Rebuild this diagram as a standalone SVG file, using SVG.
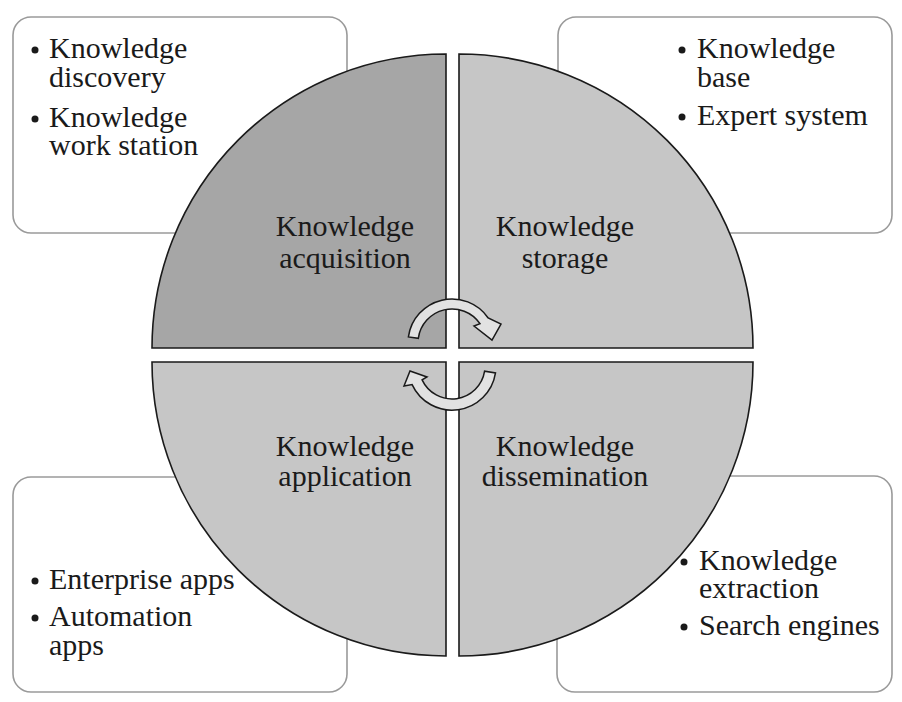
<svg xmlns="http://www.w3.org/2000/svg" width="902" height="702" viewBox="0 0 902 702">
<style>
.box{fill:#fff;stroke:#9a9a9a;stroke-width:1.6}
.q{stroke:#1a1a1a;stroke-width:1.6}
.dark{fill:#a6a6a6}
.light{fill:#c6c6c6}
text{font-family:"Liberation Serif","Times New Roman",serif;font-size:30px;fill:#1a1a1a}
.c{text-anchor:middle}
.dot{fill:#1a1a1a}
.arr{fill:#e2e2e2;stroke:#1a1a1a;stroke-width:1.5;stroke-linejoin:miter}
</style>
<rect width="902" height="702" fill="#fff"/>
<g id="box-acquisition-tools">
<rect class="box" x="13" y="17" width="334" height="216" rx="18"/>
<circle class="dot" cx="35" cy="50" r="3.5"/>
<text x="49" y="58">Knowledge</text>
<text x="49" y="87">discovery</text>
<circle class="dot" cx="35" cy="119" r="3.5"/>
<text x="49" y="127">Knowledge</text>
<text x="49" y="155">work station</text>
</g>
<g id="box-storage-tools">
<rect class="box" x="558" y="17" width="334" height="216" rx="18"/>
<circle class="dot" cx="682" cy="50" r="3.5"/>
<text x="697" y="58">Knowledge</text>
<text x="697" y="87">base</text>
<circle class="dot" cx="682" cy="117" r="3.5"/>
<text x="697" y="125">Expert system</text>
</g>
<g id="box-application-tools">
<rect class="box" x="13" y="477" width="334" height="215" rx="18"/>
<circle class="dot" cx="35" cy="581" r="3.5"/>
<text x="49" y="589">Enterprise apps</text>
<circle class="dot" cx="35" cy="618" r="3.5"/>
<text x="49" y="626">Automation</text>
<text x="49" y="655">apps</text>
</g>
<g id="box-dissemination-tools">
<rect class="box" x="557" y="476" width="335" height="216" rx="18"/>
<circle class="dot" cx="684" cy="562" r="3.5"/>
<text x="699" y="570">Knowledge</text>
<text x="699" y="598">extraction</text>
<circle class="dot" cx="684" cy="627" r="3.5"/>
<text x="699" y="635">Search engines</text>
</g>
<g id="knowledge-acquisition">
<path class="q dark" d="M446,348 L152,348 A294,294 0 0 1 446,54 Z"/>
<text class="c" x="345" y="236">Knowledge</text>
<text class="c" x="345" y="268">acquisition</text>
</g>
<g id="knowledge-storage">
<path class="q light" d="M459,348 L459,54 A294,294 0 0 1 753,348 Z"/>
<text class="c" x="565" y="236">Knowledge</text>
<text class="c" x="565" y="268">storage</text>
</g>
<g id="knowledge-dissemination">
<path class="q light" d="M459,362 L753,362 A294,294 0 0 1 459,656 Z"/>
<text class="c" x="565" y="456">Knowledge</text>
<text class="c" x="565" y="486">dissemination</text>
</g>
<g id="knowledge-application">
<path class="q light" d="M446,362 L446,656 A294,294 0 0 1 152,362 Z"/>
<text class="c" x="345" y="456">Knowledge</text>
<text class="c" x="345" y="486">application</text>
</g>
<g id="connectors">
<path class="arr" d="M408.4,336.9 A44,44 0 0 1 488.2,318 L501,324 L492,340 L474,326 L480,323.7 A34,34 0 0 0 418.3,338.3 Z"/>
<path class="arr" d="M495.5,372.9 A44,44 0 0 1 412.1,384.6 L404,386 L410,371 L427,377 L422.1,379.9 A33,33 0 0 0 484.6,371.2 Z"/>
</g>
</svg>
